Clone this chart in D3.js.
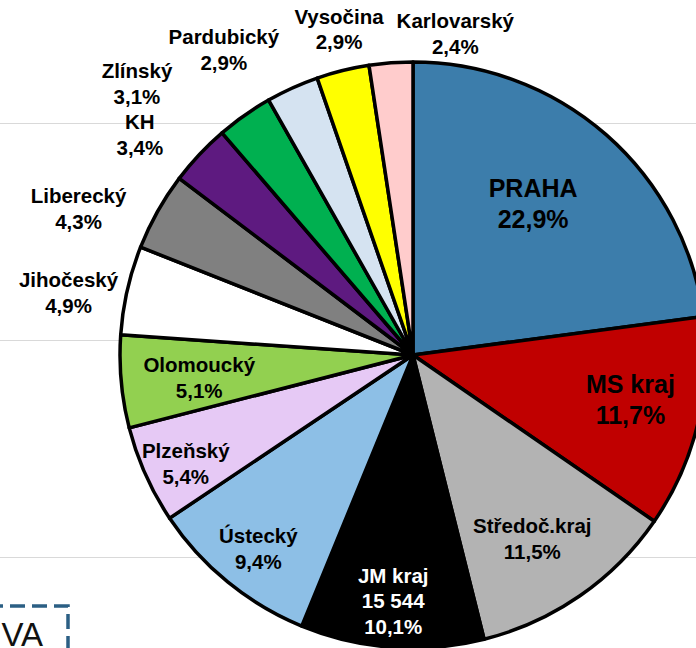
<!DOCTYPE html>
<html>
<head>
<meta charset="utf-8">
<script src="https://cdn.jsdelivr.net/npm/d3@7"></script>
<style>
  body { margin: 0; background: #fff; }
  svg { display: block; font-family: "Liberation Sans", Arial, sans-serif; }
</style>
</head>
<body>
<div id="chart"></div>
<script>
// regions and their share (%)
const regions = ["PRAHA", "MS kraj", "Středoč.kraj", "JM kraj", "Ústecký", "Plzeňský", "Olomoucký",
  "Jihočeský", "Liberecký", "KH", "Zlínský", "Pardubický", "Vysočina", "Karlovarský"];
const shares = [22.9, 11.7, 11.5, 10.1, 9.4, 5.4, 5.1, 4.9, 4.3, 3.4, 3.1, 2.9, 2.9, 2.4];
const extraLine = { "JM kraj": "15 544" };
const colors = ["#3c7dab", "#c00000", "#b3b3b3", "#000000", "#8dbfe6", "#e6c9f5", "#92d050",
  "#ffffff", "#808080", "#5e1a80", "#00b050", "#d5e3f1", "#ffff00", "#ffcccc"];
const gridTicks = [0, 1, 2];

const width = 696, height = 648;
const cx = 413, cy = 355, radius = 293;

// label placement: [angle in degrees from top, distance from centre]
const labelPolar = [[38.5, 193], [101.7, 222], [147, 219], [184.6, 247], [218.6, 248], [244.4, 252],
  [263.9, 215], [280.2, 350], [293.6, 365], [308.9, 351], [314.5, 387], [328.2, 359], [347.2, 334], [7.5, 324]];

const svg = d3.select("#chart").append("svg")
  .attr("width", width).attr("height", height);

// faint gridlines behind the pie
const gy = d3.scaleLinear().domain([0, 2]).range([123.5, 557.5]);
svg.selectAll(".grid").data(gridTicks).join("line")
  .attr("x1", 0).attr("x2", width)
  .attr("y1", d => gy(d)).attr("y2", d => gy(d))
  .attr("stroke", "#d9d9d9").attr("stroke-width", 1);

const pie = d3.pie().sort(null).value(d => d.v);
const arc = d3.arc().innerRadius(0).outerRadius(radius);
const data = regions.map((r, i) => ({ name: r, v: shares[i], i }));

const g = svg.append("g").attr("transform", `translate(${cx},${cy})`);
g.selectAll("path").data(pie(data)).join("path")
  .attr("d", arc)
  .attr("fill", d => colors[d.data.i])
  .attr("stroke", "#000")
  .attr("stroke-width", 3.5)
  .attr("stroke-linejoin", "round");

// labels
data.forEach((d, i) => {
  const [deg, r] = labelPolar[i];
  const a = deg * Math.PI / 180;
  const x = r * Math.sin(a), y = -r * Math.cos(a);
  const big = i < 2;
  const fs = big ? 25 : 20.5;
  const lh = big ? 31 : 25.5;
  const lines = [d.name];
  if (extraLine[d.name]) lines.push(extraLine[d.name]);
  lines.push(d3.format(".1f")(d.v).replace(".", ",") + "%");
  const t = g.append("text")
    .attr("text-anchor", "middle")
    .attr("font-weight", "bold")
    .attr("font-size", fs)
    .attr("fill", d.name === "JM kraj" ? "#fff" : "#000");
  lines.forEach((l, k) => {
    t.append("tspan")
      .attr("x", x)
      .attr("y", y + (k - (lines.length - 1) / 2) * lh)
      .attr("dy", "0.35em")
      .text(l);
  });
});

// dashed frame at bottom left (partly outside the view, as in the original)
svg.append("rect")
  .attr("x", -100).attr("y", 606)
  .attr("width", 168).attr("height", 120)
  .attr("fill", "none")
  .attr("stroke", "#2b5f84")
  .attr("stroke-width", 3.5)
  .attr("stroke-dasharray", "15 7");
svg.append("text")
  .attr("x", 43).attr("y", 646)
  .attr("text-anchor", "end")
  .attr("font-size", 33)
  .attr("fill", "#111")
  .text("VA");
</script>
</body>
</html>
